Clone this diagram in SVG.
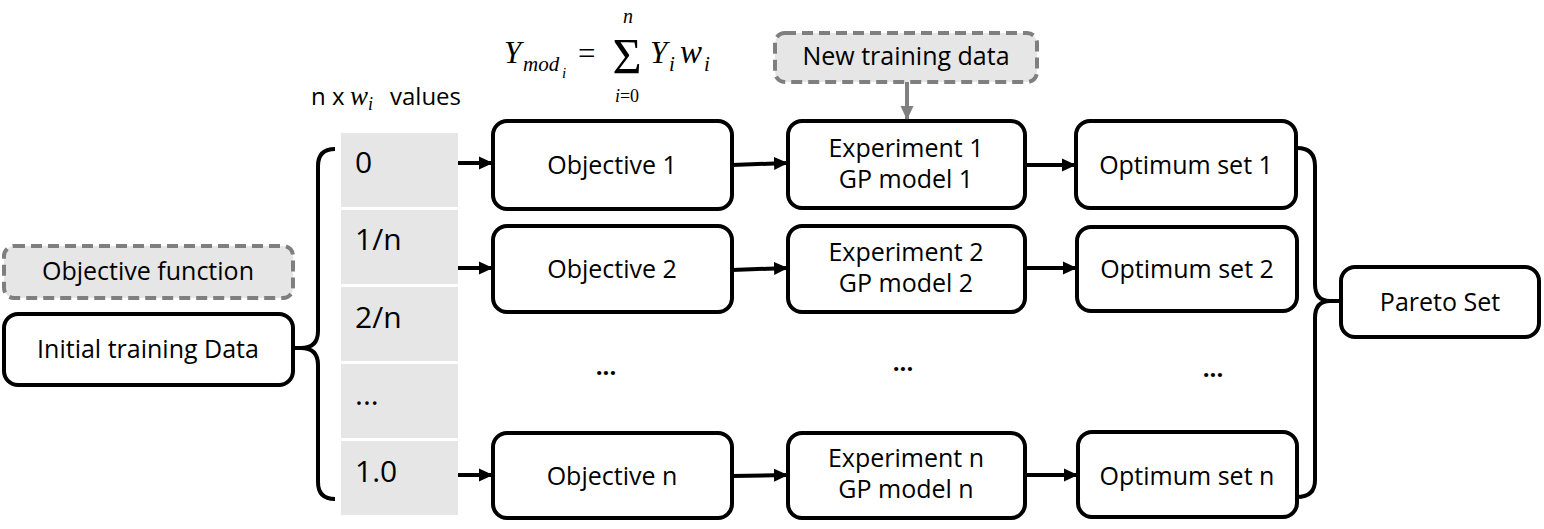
<svg xmlns="http://www.w3.org/2000/svg" width="1544" height="529" viewBox="0 0 1544 529">
<defs>
<style>
.box{fill:#fff;stroke:#000;stroke-width:4}
.dash{fill:#E7E6E6;stroke:#7F7F7F;stroke-width:4;stroke-dasharray:11 6}
.cell{fill:#E7E6E6}
.lbl{font-family:"Open Sans","Noto Sans",sans-serif;font-size:25px;fill:#000;text-anchor:middle}
.num{font-family:"Open Sans","Noto Sans",sans-serif;font-size:30px;fill:#000}
.math{font-family:"Liberation Serif","DejaVu Serif",serif;font-style:italic;fill:#000}
.conn{fill:none;stroke:#000;stroke-width:4}
.dots{font-family:"Open Sans","Noto Sans",sans-serif;font-size:24px;font-weight:bold;fill:#000;text-anchor:middle}
</style>
<marker id="ah" markerUnits="userSpaceOnUse" viewBox="0 0 14 14" markerWidth="14" markerHeight="14" refX="13" refY="7" orient="auto">
<path d="M0,0.5 L14,7 L0,13.5 z" fill="#000"/>
</marker>
<marker id="ahg" markerUnits="userSpaceOnUse" viewBox="0 0 14 14" markerWidth="14" markerHeight="14" refX="13" refY="7" orient="auto">
<path d="M0,0.5 L14,7 L0,13.5 z" fill="#808080"/>
</marker>
</defs>
<rect width="1544" height="529" fill="#fff"/>

<g id="formula">
<text class="math" x="504" y="63" font-size="31">Y</text>
<text class="math" x="523" y="71" font-size="21">mod</text>
<text class="math" x="562" y="78" font-size="15">i</text>
<text x="578" y="64" font-family="Liberation Serif,serif" font-size="31">=</text>
<text x="627" y="73" font-family="Liberation Serif,serif" font-size="50" text-anchor="middle">Σ</text>
<text class="math" x="628" y="23" font-size="20" text-anchor="middle">n</text>
<text class="math" x="627" y="102" font-size="18" text-anchor="middle">i<tspan font-style="normal">=0</tspan></text>
<text class="math" x="650" y="63" font-size="31">Y</text>
<text class="math" x="669" y="71" font-size="21">i</text>
<text class="math" x="680" y="63" font-size="33">w</text>
<text class="math" x="704" y="71" font-size="21">i</text>
</g>

<g id="wlabel">
<text x="311" y="105" font-family="Open Sans,sans-serif" font-size="24">n x</text>
<text class="math" x="350" y="105" font-size="27">w</text>
<text class="math" x="368" y="110" font-size="18">i</text>
<text x="390" y="105" font-family="Open Sans,sans-serif" font-size="24">values</text>
</g>

<g id="objfunc">
<rect class="dash" x="4" y="246" width="289" height="52" rx="10"/>
<text class="lbl" x="148" y="280">Objective function</text>
</g>
<g id="init">
<rect class="box" x="4" y="314" width="289" height="71" rx="14"/>
<text class="lbl" x="148" y="358">Initial training Data</text>
</g>

<g id="weights">
<rect class="cell" x="341" y="133" width="117" height="74"/>
<rect class="cell" x="341" y="210" width="117" height="74"/>
<rect class="cell" x="341" y="287" width="117" height="74"/>
<rect class="cell" x="341" y="364" width="117" height="74"/>
<rect class="cell" x="341" y="441" width="117" height="74"/>
<text class="num" x="355" y="173">0</text>
<text class="num" x="355" y="250">1/n</text>
<text class="num" x="355" y="328">2/n</text>
<text class="num" x="355" y="405">...</text>
<text class="num" x="355" y="482">1.0</text>
</g>

<g id="newdata">
<rect class="dash" x="775" y="33" width="262" height="49" rx="10"/>
<text class="lbl" x="906" y="65">New training data</text>
</g>

<g id="obj1"><rect class="box" x="493" y="121" width="239" height="88" rx="14"/><text class="lbl" x="612" y="174">Objective 1</text></g>
<g id="obj2"><rect class="box" x="493" y="226" width="239" height="86" rx="14"/><text class="lbl" x="612" y="278">Objective 2</text></g>
<g id="objn"><rect class="box" x="493" y="433" width="239" height="85" rx="14"/><text class="lbl" x="612" y="485">Objective n</text></g>

<g id="exp1"><rect class="box" x="788" y="121" width="237" height="87" rx="14"/><text class="lbl" x="906" y="157">Experiment 1</text><text class="lbl" x="906" y="188">GP model 1</text></g>
<g id="exp2"><rect class="box" x="788" y="226" width="237" height="86" rx="14"/><text class="lbl" x="906" y="261">Experiment 2</text><text class="lbl" x="906" y="292">GP model 2</text></g>
<g id="expn"><rect class="box" x="788" y="433" width="237" height="85" rx="14"/><text class="lbl" x="906" y="467">Experiment n</text><text class="lbl" x="906" y="498">GP model n</text></g>

<g id="opt1"><rect class="box" x="1076" y="121" width="220" height="87" rx="14"/><text class="lbl" x="1186" y="174">Optimum set 1</text></g>
<g id="opt2"><rect class="box" x="1077" y="227" width="220" height="84" rx="14"/><text class="lbl" x="1187" y="278">Optimum set 2</text></g>
<g id="optn"><rect class="box" x="1078" y="432" width="219" height="85" rx="14"/><text class="lbl" x="1187" y="485">Optimum set n</text></g>

<g id="pareto"><rect class="box" x="1341" y="267" width="198" height="70" rx="14"/><text class="lbl" x="1440" y="311">Pareto Set</text></g>

<g id="ellipses">
<text class="dots" x="606" y="375">...</text>
<text class="dots" x="903" y="371">...</text>
<text class="dots" x="1213" y="377">...</text>
</g>

<g id="connectors">
<path class="conn" d="M293,348 L301,348 M335,149 Q318,149 318,166 L318,331 Q318,348 301,348 Q318,348 318,365 L318,482 Q318,499 335,499"/>
<path class="conn" d="M1297,148 Q1315,148 1315,166 L1315,284 Q1315,301 1330,301 L1341,301 M1330,301 Q1315,301 1315,318 L1315,480 Q1315,497 1297,497"/>
<line class="conn" x1="458" y1="163" x2="492" y2="163" marker-end="url(#ah)"/>
<line class="conn" x1="458" y1="268" x2="492" y2="268" marker-end="url(#ah)"/>
<line class="conn" x1="458" y1="475" x2="492" y2="475" marker-end="url(#ah)"/>
<line class="conn" x1="732" y1="165" x2="787" y2="163" marker-end="url(#ah)"/>
<line class="conn" x1="732" y1="270" x2="787" y2="268" marker-end="url(#ah)"/>
<line class="conn" x1="732" y1="476" x2="787" y2="475" marker-end="url(#ah)"/>
<line class="conn" x1="1025" y1="165" x2="1075" y2="165" marker-end="url(#ah)"/>
<line class="conn" x1="1025" y1="268" x2="1076" y2="268" marker-end="url(#ah)"/>
<line class="conn" x1="1025" y1="475" x2="1077" y2="475" marker-end="url(#ah)"/>
<line x1="907" y1="82" x2="907" y2="119" stroke="#808080" stroke-width="4" marker-end="url(#ahg)"/>
</g>
</svg>
